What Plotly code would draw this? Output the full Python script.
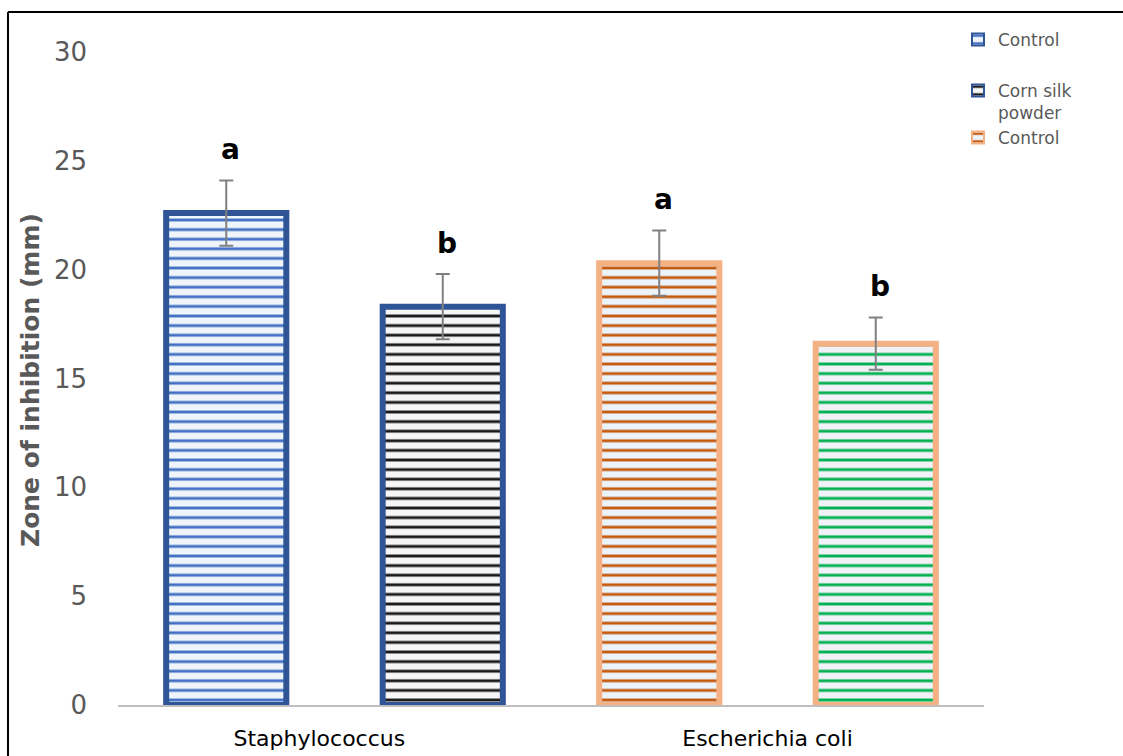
import plotly.graph_objects as go

# Zone of inhibition per treatment (mm), mean and error
bar_names = ["Control", "Corn silk powder", "Control", "Corn silk powder"]
legend_text = ["Control", "Corn silk<br>powder", "Control", None]
values = [22.6, 18.3, 20.3, 16.6]
errors = [1.5, 1.5, 1.5, 1.2]
letters = ["a", "b", "a", "b"]
positions = [0, 1, 2, 3]

categories = ["Staphylococcus", "Escherichia coli"]
category_pos = [0.43, 2.5]
y_ticks = [0, 5, 10, 15, 20, 25, 30]

# Styling per bar
border_colors = ["#2f5597", "#2f5597", "#f4b183", "#f4b183"]
stripe_colors = ["#4472c4", "#1a1a1a", "#c55a11", "#00b050"]
fill_colors = ["#f0f5fc", "#f6f6f6", "#ecf3fb", "#f0f2f8"]
legend_ids = ["legend", "legend2", "legend3", None]

W, H = 1123, 756
L, R, T, B = 118, 139, 52, 51
pw, ph = W - L - R, H - T - B


def px_x(x):
    return (x - L) / pw


def px_y(y):
    return (H - B - y) / ph


fig = go.Figure()
for i in range(len(values)):
    fig.add_trace(go.Bar(
        x=[positions[i]], y=[values[i]], width=0.555,
        name=legend_text[i] or bar_names[i],
        showlegend=legend_ids[i] is not None,
        legend=legend_ids[i] or "legend",
        marker=dict(
            color=fill_colors[i],
            line=dict(color=border_colors[i], width=6),
            pattern=dict(shape="-", fgcolor=stripe_colors[i], bgcolor=fill_colors[i],
                         size=9.6, solidity=0.3, fillmode="replace"),
        ),
        error_y=dict(type="data", array=[errors[i]], color="#808080",
                     thickness=2, width=7),
    ))
    fig.add_annotation(
        x=positions[i] + 0.02, y=values[i] + errors[i], yshift=31,
        text=letters[i], showarrow=False, yanchor="middle",
        font=dict(family="DejaVu Sans", size=28, color="#000000", weight="bold"),
    )

# y-axis title
fig.add_annotation(
    xref="paper", yref="paper", x=px_x(30), y=px_y(380),
    text="<b>Zone of inhibition (mm)</b>", textangle=-90, showarrow=False,
    xanchor="center", yanchor="middle",
    font=dict(family="DejaVu Sans", size=25, color="#595959"),
)

# outer frame (left and top edges)
frame = dict(color="#000000", width=2)
fig.add_shape(type="line", xref="paper", yref="paper",
              x0=px_x(8), x1=px_x(8), y0=px_y(12), y1=px_y(760), line=frame)
fig.add_shape(type="line", xref="paper", yref="paper",
              x0=px_x(8), x1=px_x(1130), y0=px_y(12), y1=px_y(12), line=frame)

legend_font = dict(family="DejaVu Sans", size=17, color="#595959")
legend_common = dict(xanchor="left", yanchor="middle", bgcolor="rgba(0,0,0,0)",
                     font=legend_font, valign="top", itemsizing="constant")

fig.update_layout(
    width=W, height=H,
    margin=dict(l=L, r=R, t=T, b=B, autoexpand=False),
    paper_bgcolor="white", plot_bgcolor="white",
    barmode="overlay",
    legend=dict(x=px_x(958), y=px_y(40), **legend_common),
    legend2=dict(x=px_x(958), y=px_y(102), **legend_common),
    legend3=dict(x=px_x(958), y=px_y(138), **legend_common),
    xaxis=dict(
        range=[-0.5, 3.5], tickvals=category_pos, ticktext=categories,
        showline=True, linecolor="#bfbfbf", linewidth=2, ticks="",
        showgrid=False, zeroline=False, ticklabelstandoff=13, automargin=False,
        tickfont=dict(family="DejaVu Sans", size=22, color="#000000"),
    ),
    yaxis=dict(
        range=[0, 30], tickvals=y_ticks, showgrid=False, zeroline=False,
        showline=False, ticks="", ticklabelstandoff=30, automargin=False,
        tickfont=dict(family="DejaVu Sans", size=26, color="#595959"),
    ),
)

fig.write_html("out.html")
